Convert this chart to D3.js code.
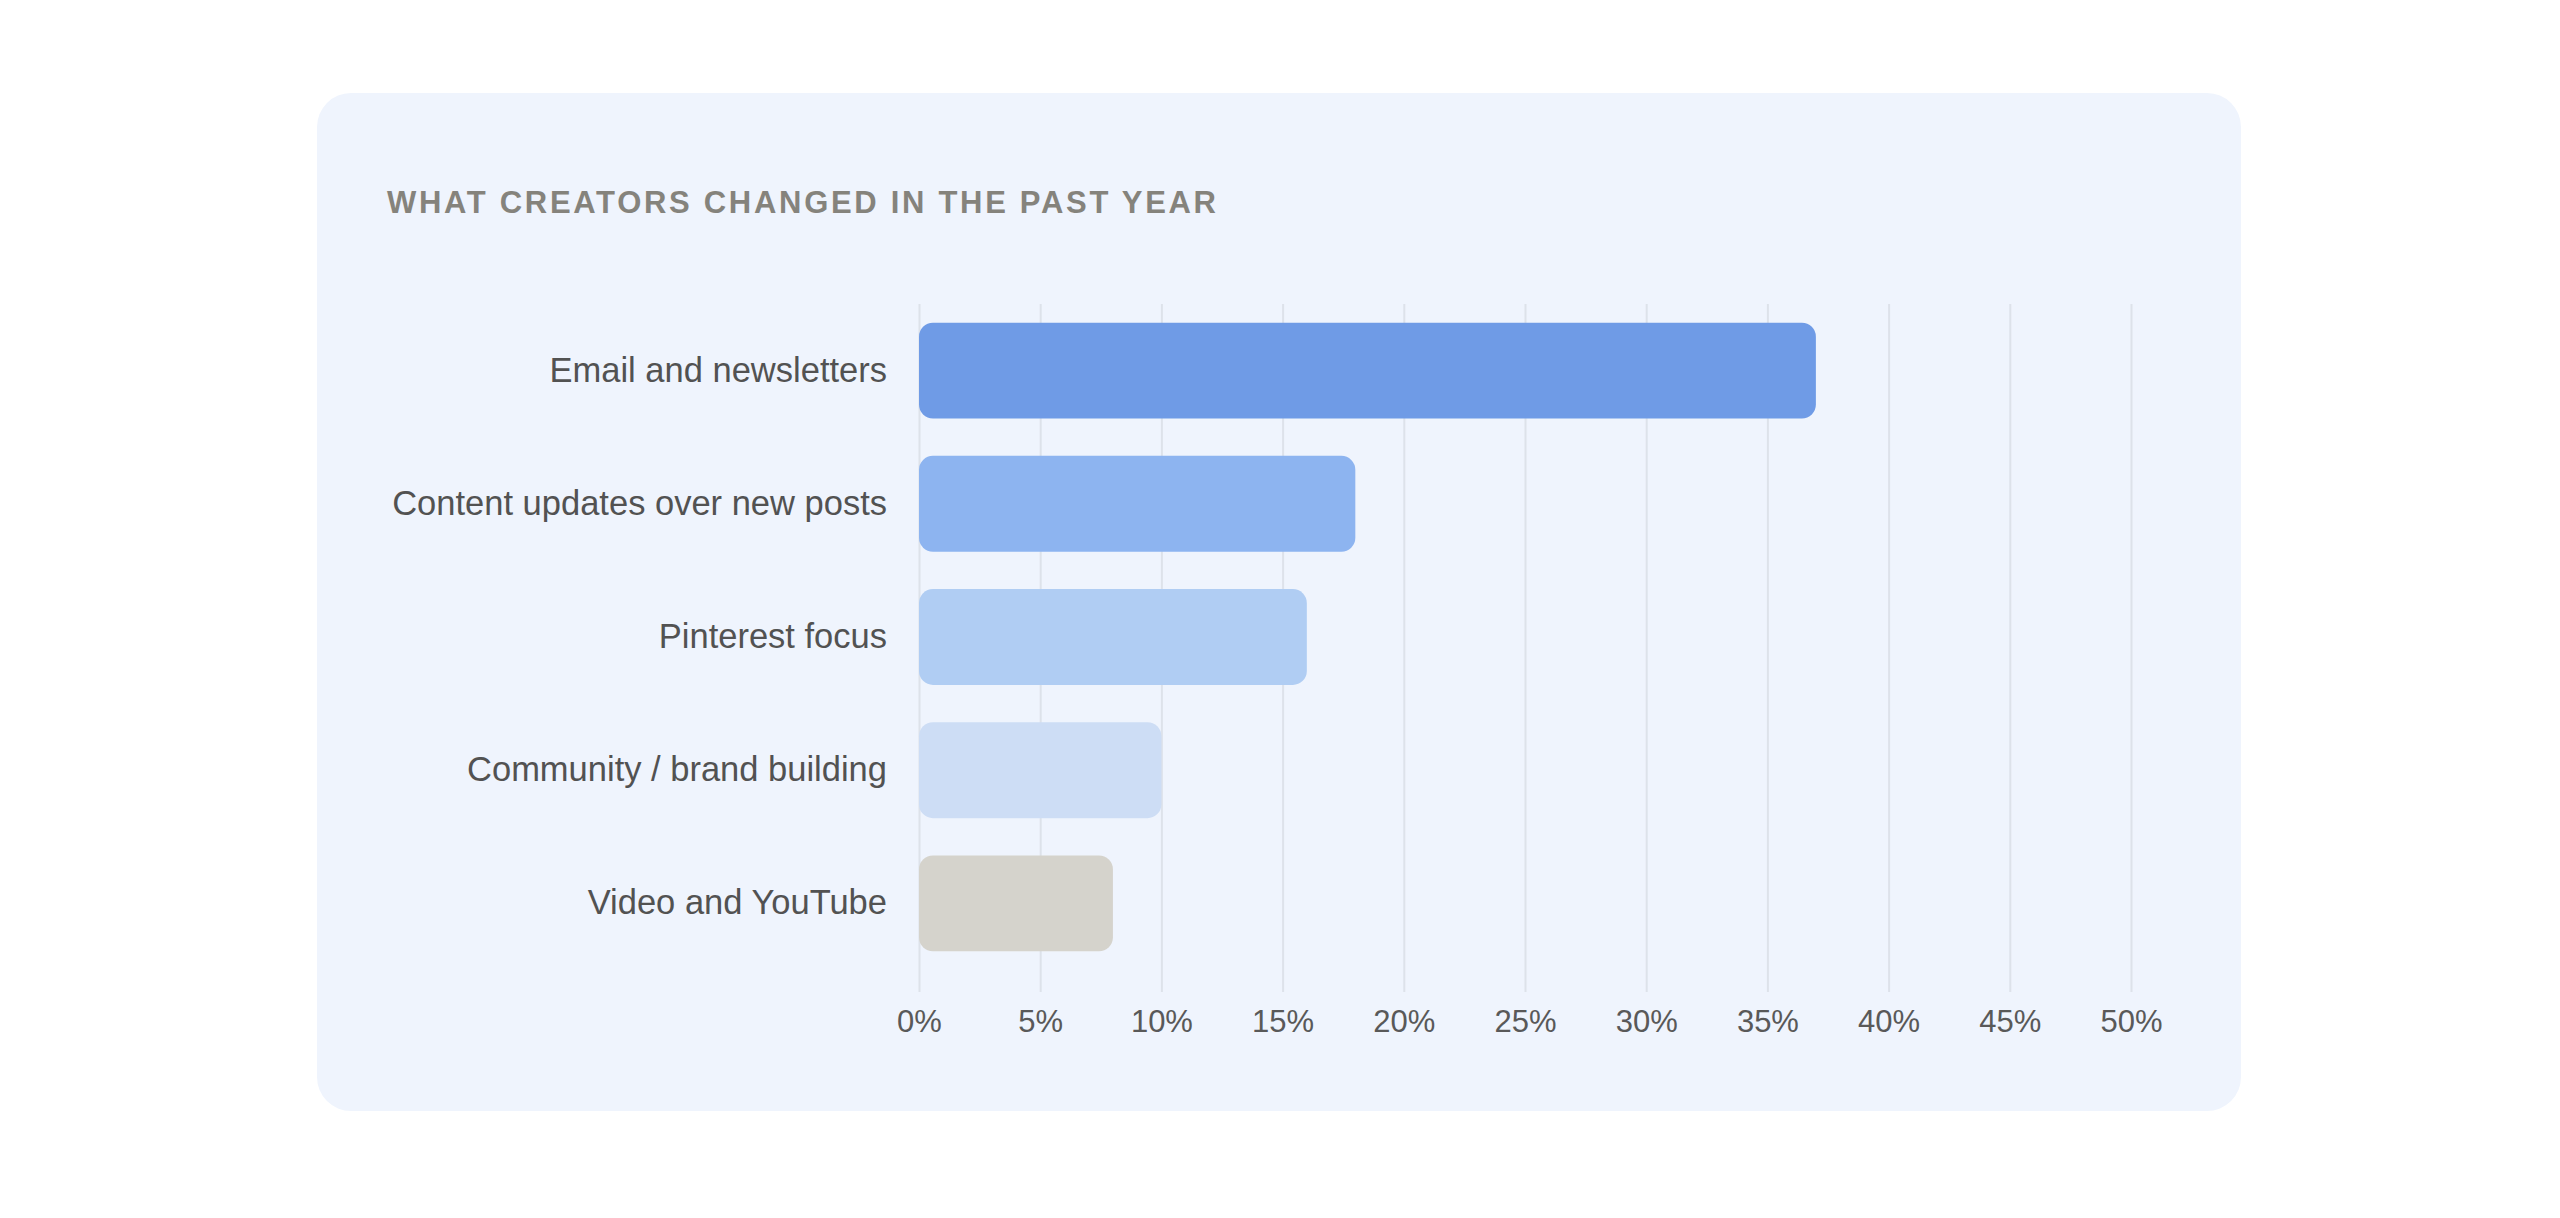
<!DOCTYPE html>
<html>
<head>
<meta charset="utf-8">
<script src="https://cdn.jsdelivr.net/npm/d3@7"></script>
<style>
  html, body { margin: 0; padding: 0; background: #ffffff; }
  svg { display: block; }
</style>
</head>
<body>
<div id="chart"></div>
<script>

var categories = ["Email and newsletters", "Content updates over new posts", "Pinterest focus", "Community / brand building", "Video and YouTube"]

var values = [37, 18, 16, 10, 8]

var barColors = ["#6f9be6", "#8db4f0", "#b0cdf3", "#cdddf5", "#d5d3cc"]

var tickValues = [0, 5, 10, 15, 20, 25, 30, 35, 40, 45, 50]

var title = "WHAT CREATORS CHANGED IN THE PAST YEAR"

var width = 2560
var height = 1218

var card = {x: 317, y: 93, w: 1924, h: 1018, r: 34}

var plotLeft = 919
var plotRight = 2131
var plotTop = 304
var plotBottom = 970
var gridExtra = 22

var svg = d3.select("#chart").append("svg")
  .attr("width", width)
  .attr("height", height)

svg.append("rect")
  .attr("x", card.x)
  .attr("y", card.y)
  .attr("width", card.w)
  .attr("height", card.h)
  .attr("rx", card.r)
  .attr("fill", "#eff4fd")

svg.append("text")
  .attr("x", 387)
  .attr("y", 213)
  .attr("font-family", "Liberation Sans, Arial, sans-serif")
  .attr("font-weight", "bold")
  .attr("font-size", "31px")
  .attr("letter-spacing", "2.7px")
  .attr("fill", "#85837c")
  .text(title)

var x = d3.scaleLinear()
  .domain([0, 50])
  .range([plotLeft, plotRight])

var y = d3.scaleBand()
  .domain(categories)
  .range([plotTop, plotBottom])
  .paddingInner(0.28)
  .paddingOuter(0.14)

// grid + tick labels
var xAxis = svg.append("g")
  .attr("transform", `translate(0, ${plotBottom + gridExtra})`)
  .call(d3.axisBottom(x)
    .tickValues(tickValues)
    .tickSize(-(plotBottom + gridExtra - plotTop))
    .tickPadding(18)
    .tickFormat(d => d + "%"))

xAxis.select(".domain").remove()
xAxis.selectAll(".tick line")
  .attr("stroke", "#dde2ea")
  .attr("stroke-width", 2)
xAxis.selectAll(".tick text")
  .attr("font-family", "Liberation Sans, Arial, sans-serif")
  .attr("font-size", "31px")
  .attr("fill", "#595959")

var yAxis = svg.append("g")
  .attr("transform", `translate(${plotLeft}, 0)`)
  .call(d3.axisLeft(y).tickSize(0).tickPadding(32))

yAxis.select(".domain").remove()
yAxis.selectAll(".tick text")
  .attr("font-family", "Liberation Sans, Arial, sans-serif")
  .attr("font-size", "34.5px")
  .attr("fill", "#525252")

svg.append("g")
  .selectAll("rect")
  .data(values)
  .enter().append("rect")
  .attr("x", x(0))
  .attr("y", (d, i) => y(categories[i]))
  .attr("width", d => x(d) - x(0))
  .attr("height", y.bandwidth())
  .attr("rx", 14)
  .attr("fill", (d, i) => barColors[i])

</script>
</body>
</html>
